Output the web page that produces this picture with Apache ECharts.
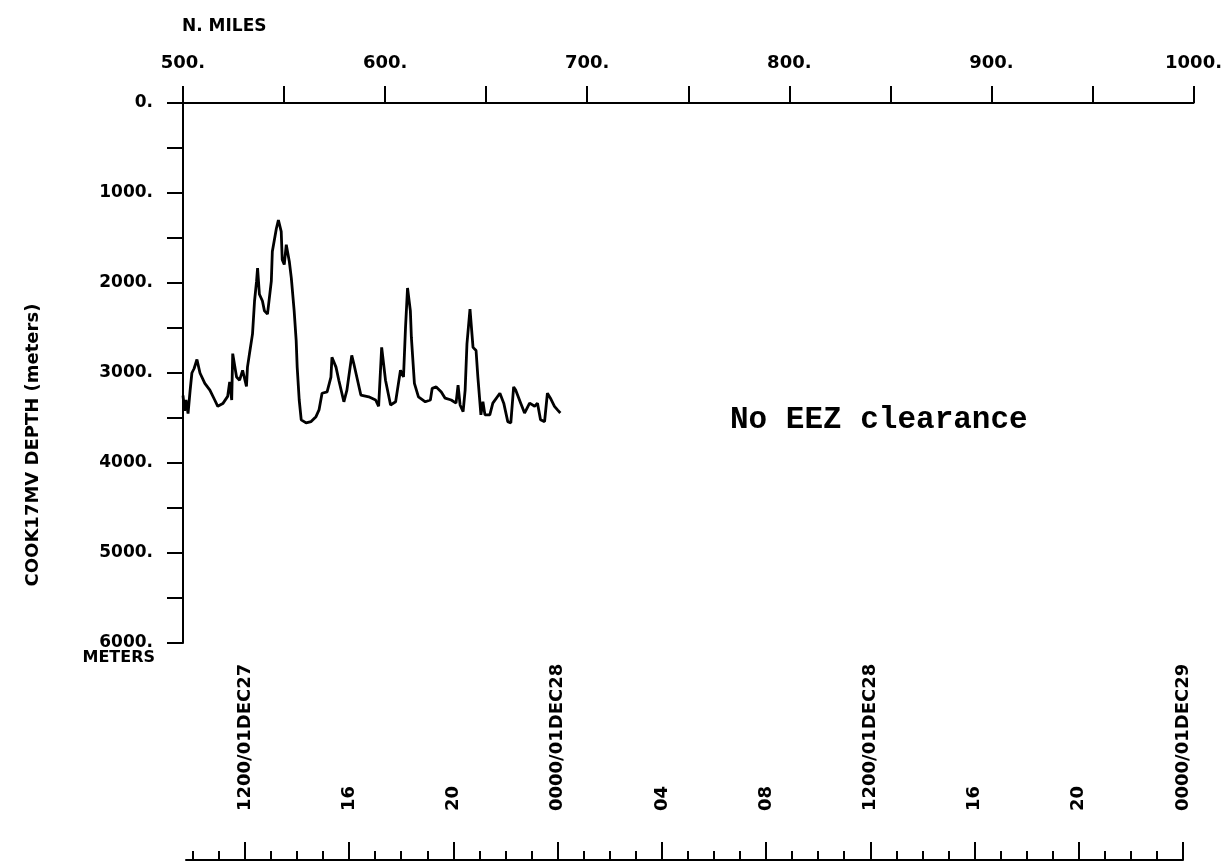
<!DOCTYPE html>
<html>
<head>
<meta charset="utf-8">
<script src="https://cdn.jsdelivr.net/npm/echarts@6.0.0/dist/echarts.min.js"></script>
<style>
html,body{margin:0;padding:0;background:#fff;}
#chart{width:1225px;height:867px;}
</style>
</head>
<body>
<div id="chart"></div>
<script>
// ---- data ----
const distanceNm = [500.0,500.8,501.5,502.5,503.5,504.4,505.5,506.9,508.4,510.8,513.3,515.7,517.2,519.7,522.1,523.1,524.1,524.6,526.5,528.0,529.5,531.4,531.9,532.9,534.4,535.4,536.4,536.9,537.8,539.3,540.3,541.8,543.7,544.2,546.2,547.2,548.6,549.1,550.1,551.1,551.6,552.6,553.6,555.0,556.0,556.5,557.5,558.5,560.9,563.4,565.8,567.3,568.8,571.3,573.2,573.7,575.7,577.1,579.6,581.1,583.5,584.5,586.0,588.0,591.9,595.3,596.8,598.3,600.2,602.7,605.2,606.6,607.6,609.1,610.1,611.1,612.5,613.0,614.5,616.5,619.9,622.4,623.3,625.3,627.8,629.7,632.7,635.1,636.1,637.1,638.6,639.6,640.5,642.0,642.5,643.5,645.0,645.9,647.4,648.4,649.4,651.8,653.3,656.8,658.7,660.7,662.2,663.6,664.6,667.1,669.0,671.5,674.0,675.4,676.9,678.9,680.3,681.8,683.8,685.3,686.7];
const depthM = [3250,3420,3300,3450,3200,3000,2950,2850,3000,3115,3190,3300,3370,3340,3260,3100,3300,2785,3045,3080,2970,3150,2935,2785,2565,2200,1980,1835,2125,2200,2310,2345,1980,1650,1395,1300,1430,1740,1795,1575,1560,1760,1945,2310,2640,2935,3300,3520,3555,3540,3485,3410,3225,3210,3045,2825,2935,3080,3320,3190,2805,2895,3045,3245,3265,3300,3370,2715,3080,3355,3320,3115,2970,3045,2495,2055,2310,2605,3115,3265,3320,3300,3170,3155,3210,3280,3300,3335,3135,3355,3430,3190,2675,2290,2290,2715,2750,3045,3465,3320,3465,3465,3335,3225,3335,3540,3555,3155,3190,3335,3445,3335,3370,3335,3520,3540,3225,3280,3370,3410,3445];

// time axis (hours counted from 0000 on DEC27)
const timeMinorHours = [10,11,12,13,14,15,16,17,18,19,20,21,22,23,24,25,26,27,28,29,30,31,32,33,34,35,36,37,38,39,40,41,42,43,44,45,46,47,48];
const timeMajorHours = [12,16,20,24,28,32,36,40,44,48];
const timeMajorLabels = ['1200/01DEC27','16','20','0000/01DEC28','04','08','1200/01DEC28','16','20','0000/01DEC29'];

const distTicksLabelled = [500,600,700,800,900,1000];
const depthTicksLabelled = [0,1000,2000,3000,4000,5000,6000];

const FONT = 'DejaVu Sans';
const chart = echarts.init(document.getElementById('chart'), null, {renderer:'canvas'});

const lineData = distanceNm.map((d,i)=>[d, depthM[i]]);

const option = {
  animation:false,
  backgroundColor:'#ffffff',
  grid:[
    {left:183, right:25, top:103, bottom:224},
    {left:186, right:42, top:660, bottom:7}
  ],
  xAxis:[
    {
      gridIndex:0, type:'value', position:'top', min:500, max:1000, interval:50,
      axisLine:{show:true, onZero:false, lineStyle:{color:'#000', width:2}},
      axisTick:{show:true, length:17, lineStyle:{color:'#000', width:2}},
      axisLabel:{show:true, margin:31, color:'#000', fontFamily:FONT, fontWeight:'bold', fontSize:18,
        showMinLabel:true, showMaxLabel:true,
        formatter:v=> distTicksLabelled.indexOf(v)>=0 ? v+'.' : ''},
      splitLine:{show:false}
    },
    {
      gridIndex:1, type:'value', position:'bottom', min:9.74, max:48,
      axisLine:{show:true, onZero:false, lineStyle:{color:'#000', width:2}},
      axisTick:{show:true, inside:true, length:9, customValues:timeMinorHours, lineStyle:{color:'#000', width:2}},
      axisLabel:{show:false},
      splitLine:{show:false}
    },
    {
      gridIndex:1, type:'value', position:'bottom', min:9.74, max:48,
      axisLine:{show:false, onZero:false},
      axisTick:{show:true, inside:true, length:18, customValues:timeMajorHours, lineStyle:{color:'#000', width:2}},
      axisLabel:{show:true, inside:true, rotate:90, margin:49, customValues:timeMajorHours,
        color:'#000', fontFamily:FONT, fontWeight:'bold', fontSize:18,
        formatter:v=>{ const i = timeMajorHours.indexOf(Math.round(v)); return i>=0 ? timeMajorLabels[i] : ''; }},
      splitLine:{show:false}
    }
  ],
  yAxis:[
    {
      gridIndex:0, type:'value', inverse:true, min:0, max:6000, interval:500,
      axisLine:{show:true, onZero:false, lineStyle:{color:'#000', width:2}},
      axisTick:{show:true, length:16, lineStyle:{color:'#000', width:2}},
      axisLabel:{show:true, margin:30, color:'#000', fontFamily:FONT, fontWeight:'bold', fontSize:17,
        showMinLabel:true, showMaxLabel:true,
        formatter:v=> depthTicksLabelled.indexOf(v)>=0 ? v+'.' : ''},
      splitLine:{show:false}
    },
    {gridIndex:1, type:'value', show:false, min:0, max:1}
  ],
  graphic:[
    {type:'text', left:182, top:18, style:{text:'N. MILES', fill:'#000', font:'bold 17px "DejaVu Sans"'}},
    {type:'text', right:1225-155, top:650, style:{text:'METERS', fill:'#000', font:'bold 16px "DejaVu Sans"'}},
    {type:'text', x:33, y:445, rotation:Math.PI/2,
      style:{text:'COOK17MV DEPTH (meters)', fill:'#000', font:'bold 18px "DejaVu Sans"', align:'center', verticalAlign:'middle'}},
    {type:'text', x:730, y:420, style:{text:'No EEZ clearance', fill:'#000', font:'bold 31px "Liberation Mono"', verticalAlign:'middle'}}
  ],
  series:[
    {
      type:'line', xAxisIndex:0, yAxisIndex:0, data:lineData,
      showSymbol:false, symbol:'none', smooth:false,
      lineStyle:{color:'#000', width:2.8}
    }
  ]
};
chart.setOption(option);
</script>
</body>
</html>
